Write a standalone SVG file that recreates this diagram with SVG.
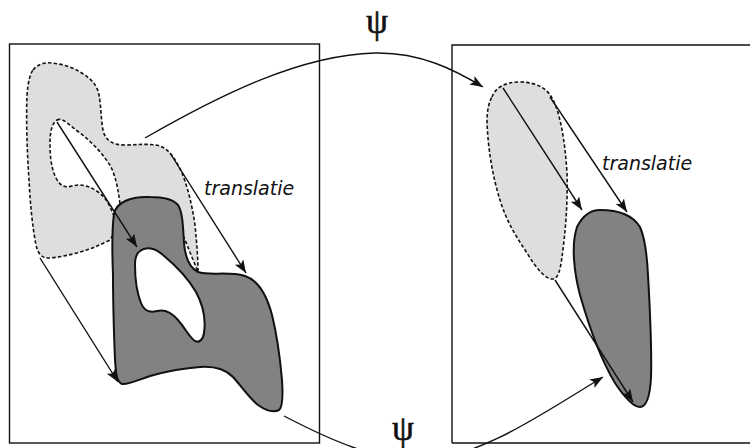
<svg xmlns="http://www.w3.org/2000/svg" width="750" height="448" viewBox="0 0 750 448">
<style>
.box{fill:none;stroke:#111;stroke-width:1.4}
.light{fill:#dedede;stroke:#111;stroke-width:1.6;stroke-dasharray:3.5 2.2}
.lighthole{fill:#fff;stroke:#111;stroke-width:1.6;stroke-dasharray:3.5 2.2}
.dark{fill:#828282;stroke:#111;stroke-width:2}
.darkhole{fill:#fff;stroke:#111;stroke-width:2}
.arr{fill:none;stroke:#111;stroke-width:1.4;marker-end:url(#ah)}
.lbl{font-family:"DejaVu Sans",sans-serif;font-style:italic;font-size:19px;fill:#111}
.psi{font-family:"Liberation Serif",serif;font-size:35px;fill:#111;stroke:#111;stroke-width:0.6;text-anchor:middle}
</style>
<defs>
<marker id="ah" markerUnits="userSpaceOnUse" markerWidth="16" markerHeight="12" refX="13" refY="5" orient="auto">
<path d="M0,0 L13,5 L0,10 L3,5 Z" fill="#111"/>
</marker>
</defs>
<g id="frames">
<rect class="box" x="9.5" y="44" width="310" height="399"/>
<path class="box" d="M452,443 L452,45 L752,45 M452,443 L752,443"/>
</g>
<g id="left-original">
<path class="light" d="M33,70 C38,64 45,62 52,63 C62,64 72,67 80,72 C90,78 97,84 99,95 C101,105 101,120 103,130 C105,140 112,145 125,145 C138,145 150,143 160,146 C170,150 176,160 182,173 C188,188 192,205 195,225 C197,245 198,260 198,272 L185,240 C175,215 130,205 110,240 C98,246 88,250 77,253 C65,256 55,258 48,258 C42,258 38,254 36,245 C32,225 30,200 29,180 C27,150 26,120 27,95 C28,82 30,74 33,70 Z"/>
<path class="lighthole" d="M57,120 C63,117 70,126 80,133 C92,142 104,155 111,167 C117,180 119,195 121,212 L113,214 C109,203 104,195 95,190 C87,185 80,184 72,186 C65,188 60,186 56,178 C51,168 50,155 50,143 C50,132 52,123 57,120 Z"/>
</g>
<g id="left-image">
<path class="dark" d="M114,214 C116,203 130,196 150,197 C163,197 173,199 178,205 C183,213 183,228 184,243 C185,255 188,267 198,272 C210,276 228,271 245,276 C257,280 266,292 272,315 C277,335 280,357 282,380 C283,395 283,407 279,410 C273,413 265,410 258,405 C250,399 242,387 233,377 C226,370 215,366 200,367 C185,368 168,371 150,376 C138,380 128,385 122,384 C117,382 116,375 115,360 C114,335 113,305 113,275 C112,250 112,228 114,214 Z"/>
<path class="darkhole" d="M140,251 C146,246 155,248 163,255 C175,265 188,278 196,292 C203,305 206,320 204,333 C203,340 199,343 195,341 C190,338 185,328 178,320 C172,313 165,309 157,311 C150,313 144,311 141,303 C137,293 135,278 135,265 C135,258 137,253 140,251 Z"/>
</g>
<g id="right-original">
<path class="light" d="M492,97 C495,88 505,82 520,82 C535,82 547,88 552,98 C560,112 565,140 567,173 C568,205 565,235 562,257 C560,272 558,278 553,279 C546,280 536,268 527,253 C515,235 506,220 500,200 C493,178 488,150 487,122 C487,110 489,102 492,97 Z"/>
</g>
<g id="right-image">
<path class="dark" d="M577,227 C583,215 590,210 600,210 C615,210 632,214 640,227 C645,238 647,255 648,275 C650,310 652,345 651,378 C650,395 647,407 640,407 C633,407 625,398 615,383 C603,363 590,330 580,295 C574,272 571,245 577,227 Z"/>
</g>
<g id="connectors">
<path class="arr" d="M57,122 L137,247"/>
<path class="arr" d="M170,153 L246,273"/>
<path class="arr" d="M40,258 L118,382"/>
<path class="arr" d="M503,88 L582,210"/>
<path class="arr" d="M550,97 L627,212"/>
<path class="arr" d="M555,280 L633,402"/>
<path class="arr" d="M145,138 C220,95 300,55 375,53 C420,52 455,70 483,87"/>
<path class="arr" d="M284,416 C330,440 380,462 420,460 C480,458 540,415 603,377"/>
</g>
<g id="labels">
<text class="lbl" x="204" y="195">translatie</text>
<text class="lbl" x="602" y="170">translatie</text>
<text class="psi" x="377" y="33">ψ</text>
<text class="psi" x="403" y="440">ψ</text>
</g>
</svg>
